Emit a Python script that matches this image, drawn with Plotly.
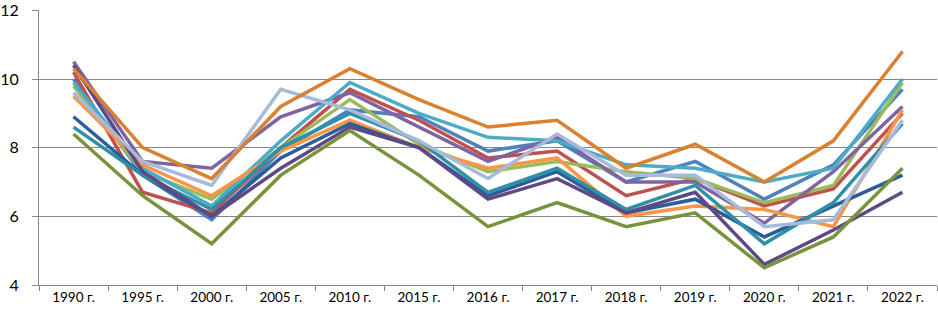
import plotly.graph_objects as go

categories = ["1990 г.", "1995 г.", "2000 г.", "2005 г.", "2010 г.", "2015 г.", "2016 г.",
              "2017 г.", "2018 г.", "2019 г.", "2020 г.", "2021 г.", "2022 г."]

s_blue      = [10.0, 7.2, 5.9, 7.9, 9.1, 8.9, 7.9, 8.2, 7.0, 7.6, 6.5, 7.5, 9.7]
s_red       = [10.2, 6.7, 6.1, 8.0, 9.7, 8.8, 7.7, 7.9, 6.6, 7.1, 6.3, 6.8, 9.0]
s_lgreen    = [9.8, 7.3, 6.5, 8.0, 9.4, 8.1, 7.3, 7.6, 7.3, 7.1, 6.4, 6.9, 9.9]
s_purple    = [10.5, 7.6, 7.4, 8.9, 9.6, 8.6, 7.6, 8.3, 7.0, 7.0, 5.8, 7.3, 9.2]
s_aqua      = [9.9, 7.4, 6.3, 8.2, 9.9, 9.0, 8.3, 8.2, 7.5, 7.4, 7.0, 7.4, 10.0]
s_orange    = [9.5, 7.5, 6.6, 7.9, 8.8, 8.0, 7.4, 7.7, 6.0, 6.3, 6.2, 5.7, 9.1]
s_dblue     = [8.9, 7.2, 6.0, 7.7, 8.7, 8.0, 6.6, 7.3, 6.1, 6.5, 5.4, 6.3, 7.2]
s_teal      = [8.6, 7.2, 6.2, 8.0, 9.0, 8.2, 6.7, 7.4, 6.2, 6.9, 5.2, 6.4, 8.7]
s_dpurple   = [10.4, 7.3, 6.0, 7.4, 8.6, 8.0, 6.5, 7.1, 6.1, 6.7, 4.6, 5.6, 6.7]
s_lbluegray = [9.6, 7.6, 6.9, 9.7, 9.1, 8.2, 7.1, 8.4, 7.2, 7.2, 5.7, 5.9, 8.8]
s_olive     = [8.4, 6.6, 5.2, 7.2, 8.5, 7.2, 5.7, 6.4, 5.7, 6.1, 4.5, 5.4, 7.4]
s_dorange   = [10.3, 8.0, 7.1, 9.2, 10.3, 9.4, 8.6, 8.8, 7.4, 8.1, 7.0, 8.2, 10.8]

series = [
    ("Ряд 1", s_blue, "#4F81BD"),
    ("Ряд 2", s_red, "#C0504D"),
    ("Ряд 3", s_lgreen, "#9BBB59"),
    ("Ряд 4", s_purple, "#8064A2"),
    ("Ряд 5", s_aqua, "#4BACC6"),
    ("Ряд 6", s_orange, "#F79646"),
    ("Ряд 7", s_dblue, "#2C5D96"),
    ("Ряд 8", s_teal, "#2E8FA8"),
    ("Ряд 9", s_dpurple, "#5E4985"),
    ("Ряд 10", s_lbluegray, "#A7BADB"),
    ("Ряд 11", s_olive, "#77933C"),
    ("Ряд 12", s_dorange, "#D9812F"),
]

fig = go.Figure()
for name, vals, col in series:
    fig.add_trace(go.Scatter(x=categories, y=vals, mode="lines", name=name,
                             line=dict(color=col, width=3.5), showlegend=False,
                             cliponaxis=False))

fig.update_layout(
    width=938, height=312,
    margin=dict(l=39, r=1, t=10, b=27),
    paper_bgcolor="white", plot_bgcolor="white",
    font=dict(family="Lato, Liberation Sans, sans-serif", color="black"),
)
fig.update_xaxes(
    type="category", range=[-0.5, 12.5], automargin=False,
    showline=True, linecolor="#868686", linewidth=1,
    ticks="outside", tickson="boundaries", ticklen=5, tickcolor="#868686",
    showgrid=False, tickfont=dict(size=13.5),
)
fig.update_yaxes(
    range=[4, 12.01], tickvals=[4, 6, 8, 10, 12], automargin=False,
    showline=True, linecolor="#868686", linewidth=1,
    ticks="outside", ticklen=6, tickcolor="#868686",
    showgrid=True, gridcolor="#868686", gridwidth=1,
    tickfont=dict(size=16), ticklabelstandoff=10, ticklabeloverflow="allow",
    zeroline=False,
)

fig.write_html("out.html", config={"displayModeBar": False},
               post_script="document.body.style.margin='0';")
